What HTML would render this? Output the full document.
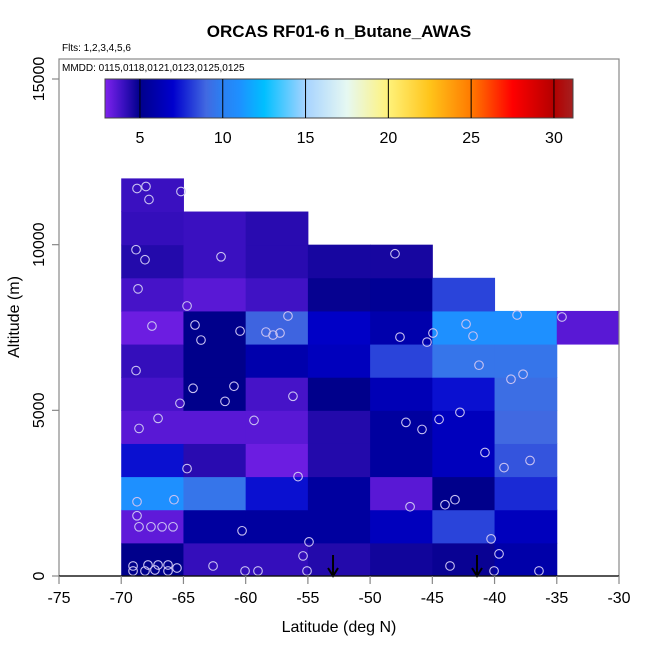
<!DOCTYPE html>
<html><head><meta charset="utf-8"><style>
html,body{margin:0;padding:0;background:#fff;}
svg text{font-family:"Liberation Sans",Arial,sans-serif;}
</style></head><body>
<svg id="chart" width="650" height="650" xmlns="http://www.w3.org/2000/svg">
<defs><linearGradient id="cbgrad" x1="0" x2="1" y1="0" y2="0"></linearGradient></defs>
<g id="cells"></g>
<g id="points"></g>
<g id="axes"></g>
<g id="cbar"></g>
<text x="339" y="37" text-anchor="middle" font-size="17" font-weight="bold">ORCAS RF01-6 n_Butane_AWAS</text>
<text x="62" y="51" font-size="10">Flts: 1,2,3,4,5,6</text>
<text x="62" y="71" font-size="10">MMDD: 0115,0118,0121,0123,0125,0125</text>
<text x="339" y="632" text-anchor="middle" font-size="16">Latitude (deg N)</text>
<text transform="translate(19,317) rotate(-90)" text-anchor="middle" font-size="16">Altitude (m)</text>
</svg>
<script>
// Data
const latBins = [-70,-65,-60,-55,-50,-45,-40,-35];
const altBins = [0,1000,2000,3000,4000,5000,6000,7000,8000,9000,10000,11000];
// rows = altitude bins (0..11), columns = latitude bins; null = no data
const row0  = [5.0,4.1,4.1,4.4,4.7,4.85,5.9,null];
const row1  = [3.4,5.6,5.6,5.6,6.5,8.3,6.5,null];
const row2  = [11,9.5,7.3,5.6,3.5,5.0,7.8,null];
const row3  = [7.3,4.3,3.2,4.4,5.6,6.5,8.6,null];
const row4  = [3.5,3.5,3.5,4.4,5.6,6.5,9.0,null];
const row5  = [3.8,5.0,3.8,5.0,6.3,7.3,9.2,null];
const row6  = [4.1,5.0,6.0,6.5,8.3,9.5,9.5,null];
const row7  = [3.2,5.0,8.9,6.8,6.0,11,11,3.5];
const row8  = [3.8,3.5,3.9,4.9,5.3,8.3,null,null];
const row9  = [4.4,4.0,4.3,4.6,4.6,null,null,null];
const row10 = [4.1,4.0,4.3,null,null,null,null,null];
const row11 = [4.0,null,null,null,null,null,null,null];
const grid = [row0,row1,row2,row3,row4,row5,row6,row7,row8,row9,row10,row11];
const pointLat = [-68.73,-68.01,-67.77,-65.20,-68.81,-68.09,-61.98,-48.00,-68.65,-64.71,-67.53,-64.07,-63.59,-60.45,-58.37,-57.80,-57.24,-56.60,-47.60,-45.43,-44.95,-42.29,-41.73,-38.19,-34.58,-68.81,-41.25,-38.68,-37.71,-64.23,-60.94,-61.66,-65.28,-56.20,-67.04,-68.57,-59.33,-47.12,-45.83,-44.46,-42.78,-40.77,-39.24,-37.15,-64.71,-55.79,-68.73,-65.76,-46.79,-43.98,-43.18,-68.73,-68.57,-67.61,-66.72,-65.84,-60.29,-40.28,-54.91,-55.39,-39.64,-62.62,-69.05,-67.85,-67.04,-66.24,-65.52,-69.05,-68.09,-67.29,-66.24,-60.05,-59.01,-55.07,-43.58,-40.04,-36.43];
const pointAlt = [11696,11756,11363,11605,9848,9545,9635,9726,8666,8151,7545,7575,7121,7393,7363,7272,7333,7848,7211,7060,7333,7605,7242,7878,7817,6200,6363,5939,6090,5666,5727,5272,5212,5424,4757,4454,4697,4636,4424,4727,4939,3727,3272,3485,3242,3000,2242,2303,2091,2151,2303,1818,1485,1485,1485,1485,1364,1121,1030,606,667,303,303,333,333,333,242,152,152,182,152,152,152,152,303,152,152];
const arrowLat = [-52.98,-41.41];
const xTicks = [-75,-70,-65,-60,-55,-50,-45,-40,-35,-30];
const yTicks = [0,5000,10000,15000];
const cbTicks = [5,10,15,20,25,30];
const cbMin = 2.89, cbMax = 31.15;
const cmapVals = [2.89,4,5,7,9,10,11,12.5,15,17.5,20,22.5,25,27.5,30,31.15];
const cmapCols = ['#7f22ee','#3a10c0','#00008b','#0000cd','#4169e1','#2a80f2','#1e90ff','#00bfff','#a6d3ff','#e6f8f2','#fff27a','#ffc41a','#ff7a00','#ff0000','#b40000','#a52020'];

const NS='http://www.w3.org/2000/svg';
const X = v => 59 + (v + 75) * (560/45);
const Y = v => 576 - v * (497/15000);
const CB = v => 105 + (v - cbMin) * (468/(cbMax-cbMin));
function hex(c){return [1,3,5].map(i=>parseInt(c.substr(i,2),16));}
function color(v){
  if(v<=cmapVals[0]) return cmapCols[0];
  for(let i=1;i<cmapVals.length;i++){
    if(v<=cmapVals[i]){
      const t=(v-cmapVals[i-1])/(cmapVals[i]-cmapVals[i-1]);
      const a=hex(cmapCols[i-1]), b=hex(cmapCols[i]);
      return 'rgb('+a.map((x,k)=>Math.round(x+(b[k]-x)*t)).join(',')+')';
    }
  }
  return cmapCols[cmapCols.length-1];
}
function mk(tag, attrs, parent){
  const e=document.createElementNS(NS,tag);
  for(const k in attrs) e.setAttribute(k,attrs[k]);
  parent.appendChild(e); return e;
}
const cells=document.getElementById('cells');
grid.forEach((row,r)=>row.forEach((v,c)=>{
  if(v===null) return;
  const x0=X(latBins[c]), x1=X(latBins[c]+5), y0=Y(altBins[r]+1000), y1=Y(altBins[r]);
  const el=mk('rect',{x:x0,y:y0,width:x1-x0+0.5,height:y1-y0+0.5,fill:color(v)},cells);
  
  
}));
const pts=document.getElementById('points');
pointLat.forEach((la,i)=>{
  const el=mk('circle',{cx:X(la),cy:Y(pointAlt[i]),r:4.3,fill:'none',stroke:'#c9c2f2','stroke-width':1.1},pts);
  
  
});
arrowLat.forEach(la=>{
  const g=mk('g',{},pts);
  
  
  const x=X(la);
  mk('line',{x1:x,y1:555,x2:x,y2:576,stroke:'#000','stroke-width':2},g);
  mk('polyline',{points:(x-5)+',568 '+x+',576 '+(x+5)+',568',fill:'none',stroke:'#000','stroke-width':2},g);
});
const ax=document.getElementById('axes');
mk('rect',{x:59,y:59,width:560,height:517,fill:'none',stroke:'#888','stroke-width':1.2},ax);
mk('line',{x1:X(-75),y1:576,x2:X(-30),y2:576,stroke:'#000','stroke-width':1.2},ax);
xTicks.forEach(t=>{
  mk('line',{x1:X(t),y1:576,x2:X(t),y2:584,stroke:'#888','stroke-width':1.2},ax);
  const tx=mk('text',{x:X(t),y:603,'text-anchor':'middle','font-size':16},ax);
  tx.textContent=t;
  
  
});
yTicks.forEach(t=>{
  mk('line',{x1:52,y1:Y(t),x2:59,y2:Y(t),stroke:'#888','stroke-width':1.2},ax);
  const tx=mk('text',{transform:'translate(44,'+Y(t)+') rotate(-90)','text-anchor':'middle','font-size':16},ax);
  tx.textContent=t;
  
  
});
const cb=document.getElementById('cbar');
const grad=document.getElementById('cbgrad');
cmapVals.forEach((v,i)=>{
  mk('stop',{offset:((v-cbMin)/(cbMax-cbMin)),'stop-color':cmapCols[i]},grad);
});
mk('rect',{x:105,y:79,width:468,height:39,fill:'url(#cbgrad)',stroke:'#444','stroke-width':1},cb);
cbTicks.forEach(t=>{
  mk('line',{x1:CB(t),y1:79,x2:CB(t),y2:118,stroke:'#000','stroke-width':1},cb);
  const tx=mk('text',{x:CB(t),y:143,'text-anchor':'middle','font-size':16},cb);
  tx.textContent=t;
  
  
});
</script>
</body></html>
